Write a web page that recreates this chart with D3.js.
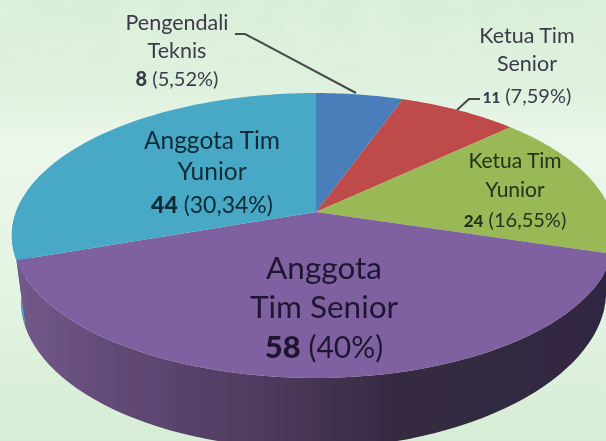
<!DOCTYPE html>
<html><head><meta charset="utf-8">
<script src="https://cdnjs.cloudflare.com/ajax/libs/d3/7.8.5/d3.min.js"></script>
<style>html,body{margin:0;padding:0;overflow:hidden;background:#e6f4e6}svg{display:block}text{font-family:Lato,"Open Sans",sans-serif;text-anchor:middle}</style>
</head><body>
<svg id="c" width="606" height="441"></svg>
<script>
const categories = ["Pengendali Teknis","Ketua Tim Senior","Ketua Tim Yunior","Anggota Tim Senior","Anggota Tim Yunior"];
const values = [8, 11, 24, 58, 44];
const percents = ["5,52%","7,59%","16,55%","40%","30,34%"];
const colors = ["#4a7ebb","#be4b48","#98b954","#7f60a0","#46a9c6"];
const labelLines = [["Pengendali","Teknis"],["Ketua Tim","Senior"],["Ketua Tim","Yunior"],["Anggota","Tim Senior"],["Anggota Tim","Yunior"]];

const svg = d3.select("#c");
const defs = svg.append("defs");
const bg = defs.append("linearGradient").attr("id","bg").attr("x1",0).attr("x2",0).attr("y1",0).attr("y2",1);
[[0,"#d9efd9"],[.2,"#dff1de"],[.33,"#ecf7ec"],[.6,"#e6f4e4"],[1,"#d6edd5"]].forEach(s=>bg.append("stop").attr("offset",s[0]).attr("stop-color",s[1]));
const side = defs.append("linearGradient").attr("id","side").attr("gradientUnits","userSpaceOnUse").attr("x1",15).attr("x2",606).attr("y1",0).attr("y2",0);
[[0,"#72598a"],[.195,"#5f4873"],[.415,"#4f3b60"],[.65,"#352a40"],[1,"#2f2840"]].forEach(s=>side.append("stop").attr("offset",s[0]).attr("stop-color",s[1]));
const soft = defs.append("filter").attr("id","soft").attr("x","-5%").attr("y","-5%").attr("width","110%").attr("height","110%");
soft.append("feGaussianBlur").attr("stdDeviation",0.45);
const blur = defs.append("filter").attr("id","mottle").attr("x",0).attr("y",0).attr("width","100%").attr("height","100%");
blur.append("feTurbulence").attr("type","fractalNoise").attr("baseFrequency","0.025 0.035").attr("numOctaves",3).attr("seed",4);
blur.append("feColorMatrix").attr("type","matrix").attr("values","0 0 0 0 0.75  0 0 0 0 0.90  0 0 0 0 0.74  1.6 0 0 0 -0.55");
const fade = defs.append("linearGradient").attr("id","fade").attr("x1",0).attr("x2",0).attr("y1",0).attr("y2",1);
fade.append("stop").attr("offset",0).attr("stop-color","#fff");
fade.append("stop").attr("offset",.6).attr("stop-color","#fff");
fade.append("stop").attr("offset",1).attr("stop-color","#000");
defs.append("mask").attr("id","fm").append("rect").attr("width",606).attr("height",110).attr("fill","url(#fade)");

svg.append("rect").attr("width",606).attr("height",441).attr("fill","url(#bg)");
svg.append("rect").attr("width",606).attr("height",110).attr("filter","url(#mottle)").attr("mask","url(#fm)").attr("opacity",.7);

// Perspective disc: unit circle projected so the rim spans y 93..378 with apex at (316,212)
const cx = 316, RL = 300, RR = 295, a = 212, b = 103.6, k = 0.165;
const project = (t, wall=false) => {
  const u = Math.sin(t), v = -Math.cos(t), w = 1 - k*v;
  const R = (u < 0 ? RL : RR) * (wall ? 0.97 : 1);
  const depth = 61.5 - 5*u + (v > 0 ? 9*v*v : 0);
  return [cx + R*u/w, (a + b*v)/w + (wall ? depth : 0)];
};
const pie = d3.pie().sort(null).value(d=>d);
const arcs = pie(values);
const rim = (s,e,w) => d3.range(0,61).map(i=>project(s+(e-s)*i/60,w));
const line = d3.line();

const chart = svg.append("g").attr("filter","url(#soft)");
// side walls
const wall = (s,e,fill) => chart.append("path")
  .attr("d", line(rim(s,e,false).concat(rim(s,e,true).reverse()))+"Z").attr("fill",fill);
const tealArc = arcs[4], purpleArc = arcs[3];
wall(tealArc.startAngle, tealArc.startAngle+0.45, "#3f9cb8");
wall(Math.PI*0.5, purpleArc.startAngle, "#2f2840");
wall(purpleArc.startAngle, purpleArc.endAngle, "url(#side)");
// top slices
chart.selectAll("path.slice").data(arcs).join("path").attr("class","slice")
  .attr("d", d => line([[cx,a]].concat(rim(d.startAngle,d.endAngle,false)))+"Z")
  .attr("fill",(d,i)=>colors[i]);

// leader lines
const leaders = svg.append("g").attr("fill","none").attr("stroke","#4a4a4a").attr("stroke-width",2).attr("filter","url(#soft)");
leaders.append("path").attr("d","M235,34L245,34L356,93");
leaders.append("path").attr("d","M457,110L469,99L480,99");

// labels
const layout = [
 {x:177,ys:[30,58,86],fs:21.5,nfs:20,pfs:20,fill:"#3b3a4a"},
 {x:527,ys:[43,71,103],fs:21.5,nfs:15,pfs:20,fill:"#3b3a4a"},
 {x:515,ys:[168,197,227],fs:21,nfs:17,pfs:20,fill:"#26301c"},
 {x:324,ys:[279,318,358],fs:31.5,nfs:31,pfs:30,fill:"#1f1830"},
 {x:212,ys:[149,180,213],fs:24.5,nfs:23,pfs:23,fill:"#0f2a36"}
];
const labels = svg.append("g").attr("filter","url(#soft)");
layout.forEach((l,i)=>{
  labelLines[i].forEach((t,j)=>labels.append("text").attr("x",l.x).attr("y",l.ys[j]).attr("font-size",l.fs).attr("fill",l.fill).text(t));
  const t = labels.append("text").attr("x",l.x).attr("y",l.ys[2]).attr("font-size",l.pfs).attr("fill",l.fill);
  t.append("tspan").attr("font-weight",900).attr("font-size",l.nfs).text(values[i]);
  t.append("tspan").text(" ("+percents[i]+")");
});
</script>
</body></html>
